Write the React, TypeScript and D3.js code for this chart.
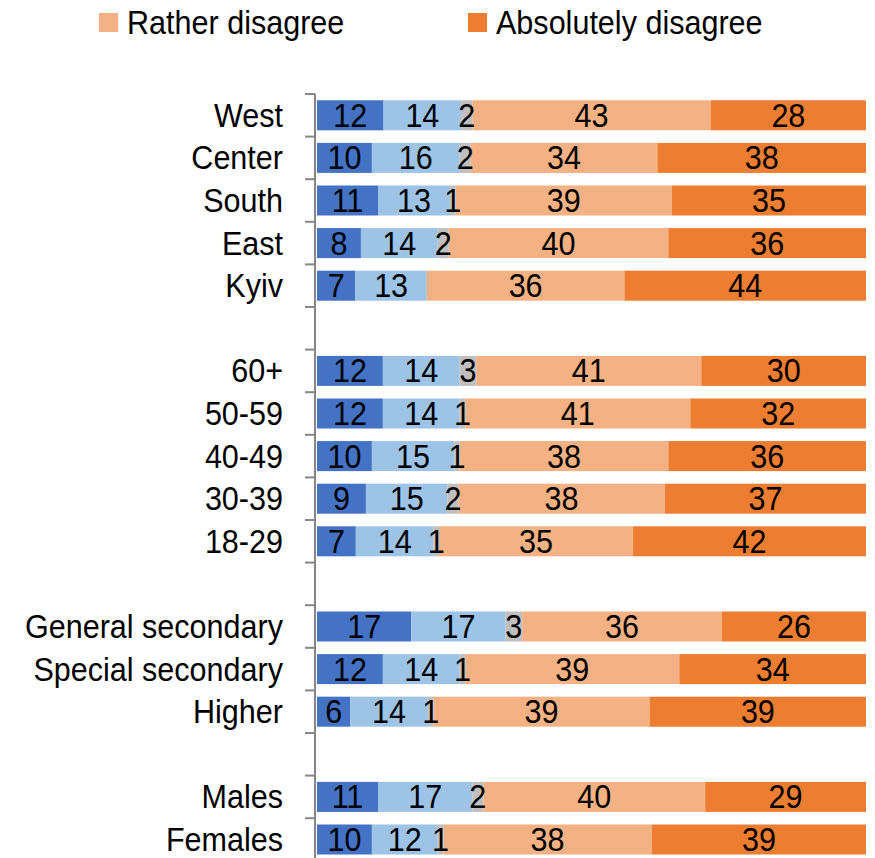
import * as d3 from 'd3';

const categories = [
  'West', 'Center', 'South', 'East', 'Kyiv', '',
  '60+', '50-59', '40-49', '30-39', '18-29', ' ',
  'General secondary', 'Special secondary', 'Higher', '  ',
  'Males', 'Females',
];

const seriesNames = ['Absolutely agree', 'Rather agree', 'Hard to say', 'Rather disagree', 'Absolutely disagree'];
const seriesColors = ['#4472C4', '#9DC3E6', '#BFBFBF', '#F4B183', '#ED7D31'];

const absolutelyAgree = [12, 10, 11, 8, 7, null, 12, 12, 10, 9, 7, null, 17, 12, 6, null, 11, 10];
const ratherAgree = [14, 16, 13, 14, 13, null, 14, 14, 15, 15, 14, null, 17, 14, 14, null, 17, 12];
const hardToSay = [2, 2, 1, 2, 0, null, 3, 1, 1, 2, 1, null, 3, 1, 1, null, 2, 1];
const ratherDisagree = [43, 34, 39, 40, 36, null, 41, 41, 38, 38, 35, null, 36, 39, 39, null, 40, 38];
const absolutelyDisagree = [28, 38, 35, 36, 44, null, 30, 32, 36, 37, 42, null, 26, 34, 39, null, 29, 39];

const seriesValues = [absolutelyAgree, ratherAgree, hardToSay, ratherDisagree, absolutelyDisagree];

// only the last two legend entries are visible in the crop
const legendItems = [3, 4];

const FONT = '"Liberation Sans", Arial, sans-serif';
const FS = 32.5;
const SX = 0.94; // the original font is slightly condensed

function Label({ x, y, anchor = 'start', children }: { x: number; y: number; anchor?: string; children: any }) {
  return (
    <text transform={`translate(${x},${y}) scale(${SX},1)`} textAnchor={anchor}
      fontFamily={FONT} fontSize={FS} fill="#000">{children}</text>
  );
}

export default function App() {
  const width = 875;
  const height = 858;

  const y = d3.scaleBand<string>()
    .domain(categories)
    .range([94, 94 + 42.6 * categories.length])
    .padding(0);
  const barH = y.bandwidth() * 0.705;

  const x = d3.scaleLinear().domain([0, 1]).range([317, 866]);

  const rows = categories.map((cat, i) => {
    const vals = seriesValues.map(s => s[i]);
    if (vals[0] == null) return null;
    const total = d3.sum(vals as number[]);
    let acc = 0;
    const segs = (vals as number[]).map((v, k) => {
      const x0 = acc / total;
      acc += v;
      return { k, v, x0, x1: acc / total };
    });
    return { cat, segs };
  });

  const tickYs = categories.map(c => y(c) as number).concat([(y(categories[categories.length - 1]) as number) + y.step()]);

  return (
    <svg width={width} height={height} style={{ display: 'block', position: 'absolute', left: 0, top: 0 }}>
      <rect width={width} height={height} fill="#fff" />

      {legendItems.map((k, j) => {
        const lx = j === 0 ? 99 : 468;
        return (
          <g key={k}>
            <rect x={lx} y={13} width={19} height={19} fill={seriesColors[k]} />
            <Label x={lx + 28} y={34}>{seriesNames[k]}</Label>
          </g>
        );
      })}

      {rows.map((r, i) => r && (
        <g key={i} transform={`translate(0,${(y(r.cat) as number) + (y.bandwidth() - barH) / 2})`}>
          {r.segs.map(s => (
            <rect key={s.k} x={x(s.x0)} y={0} width={Math.max(0, x(s.x1) - x(s.x0))} height={barH} fill={seriesColors[s.k]} />
          ))}
          {r.segs.filter(s => s.v > 0).map(s => (
            <Label key={'t' + s.k} x={(x(s.x0) + x(s.x1)) / 2} y={barH / 2 + 11.5} anchor="middle">{s.v}</Label>
          ))}
        </g>
      ))}

      {categories.map((c, i) => c.trim() && (
        <Label key={'l' + i} x={283} y={(y(c) as number) + y.bandwidth() / 2 + 11.5} anchor="end">{c}</Label>
      ))}

      <line x1={315} x2={315} y1={tickYs[0]} y2={tickYs[tickYs.length - 1]} stroke="#868686" strokeWidth={2} />
      {tickYs.map((ty, i) => (
        <line key={'k' + i} x1={305} x2={315} y1={ty} y2={ty} stroke="#868686" strokeWidth={2} />
      ))}
    </svg>
  );
}
